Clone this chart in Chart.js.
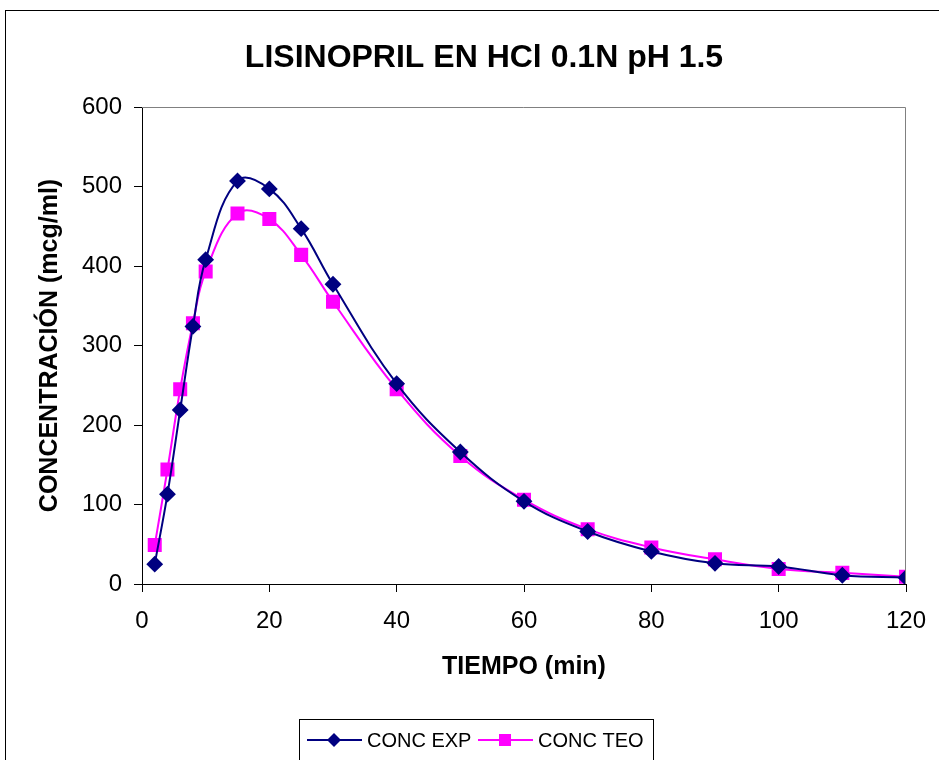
<!DOCTYPE html>
<html>
<head>
<meta charset="utf-8">
<script src="https://cdn.jsdelivr.net/npm/chart.js@4/dist/chart.umd.min.js"></script>
<style>
  html, body { margin: 0; padding: 0; background: #fff; }
  #wrap { width: 939px; height: 760px; }
</style>
</head>
<body>
<div id="wrap"><canvas id="myChart" width="939" height="760"></canvas></div>
<script>
// tiempo (min)
let tiempo = [2, 4, 6, 8, 10, 15, 20, 25, 30, 40, 50, 60, 70, 80, 90, 100, 110, 120];
// concentraciones (mcg/ml)
let concExp = [25, 113, 219, 324, 408, 507, 497, 447, 377, 252, 166, 104, 66, 41, 26, 22, 11, 8];
let concTeo = [49, 144, 245, 328, 393, 466, 459, 414, 355, 245, 161, 106, 69, 46, 31, 19, 14, 9];

let xTicks = [0, 20, 40, 60, 80, 100, 120];
let yTicks = [0, 100, 200, 300, 400, 500, 600];

function toPoints(xs, ys) {
    let pts = [];
    for (let i = 0; i < xs.length; i++) {
        pts.push({ x: xs[i], y: ys[i] });
    }
    return pts;
}

const FONT = 'Liberation Sans, Arial, sans-serif';

// marco exterior, borde del area y leyenda
const extras = {
    id: 'extras',
    beforeDraw(chart) {
        const ctx = chart.ctx;
        ctx.save();
        ctx.fillStyle = '#fff';
        ctx.fillRect(0, 0, chart.width, chart.height);
        ctx.strokeStyle = '#000';
        ctx.lineWidth = 1;
        ctx.strokeRect(5.5, 10.5, 960, 800);
        ctx.restore();
    },
    afterDraw(chart) {
        const ctx = chart.ctx;
        const a = chart.chartArea;
        ctx.save();
        // borde gris arriba y derecha
        ctx.strokeStyle = '#808080';
        ctx.lineWidth = 1;
        ctx.beginPath();
        ctx.moveTo(a.left, a.top + 0.5);
        ctx.lineTo(a.right - 0.5, a.top + 0.5);
        ctx.lineTo(a.right - 0.5, a.bottom);
        ctx.stroke();

        // titulo
        ctx.fillStyle = '#000';
        ctx.font = 'bold 32px ' + FONT;
        ctx.textAlign = 'center';
        ctx.textBaseline = 'alphabetic';
        ctx.fillText('LISINOPRIL EN HCl 0.1N pH 1.5', 484, 67);

        // leyenda
        ctx.strokeStyle = '#000';
        ctx.strokeRect(299.5, 719.5, 354, 60);
        ctx.font = '20px ' + FONT;
        ctx.textAlign = 'left';
        ctx.textBaseline = 'middle';
        const ly = 740;
        chart.data.datasets.forEach((ds, i) => {
            const x0 = i === 0 ? 307 : 478;
            ctx.strokeStyle = ds.borderColor;
            ctx.lineWidth = 2;
            ctx.beginPath();
            ctx.moveTo(x0, ly);
            ctx.lineTo(x0 + 55, ly);
            ctx.stroke();
            ctx.fillStyle = ds.pointBackgroundColor;
            if (ds.pointStyle === 'rectRot') {
                ctx.beginPath();
                ctx.moveTo(x0 + 27, ly - 7);
                ctx.lineTo(x0 + 34, ly);
                ctx.lineTo(x0 + 27, ly + 7);
                ctx.lineTo(x0 + 20, ly);
                ctx.closePath();
                ctx.fill();
            } else {
                ctx.fillRect(x0 + 21, ly - 6, 12, 12);
            }
            ctx.fillStyle = '#000';
            ctx.fillText(ds.label, x0 + 60, ly + 1);
        });
        ctx.restore();
    }
};

const ctx = document.getElementById('myChart').getContext('2d');
const myChart = new Chart(ctx, {
    type: 'line',
    data: {
        datasets: [{
            label: 'CONC EXP',
            data: toPoints(tiempo, concExp),
            borderColor: '#000080',
            backgroundColor: '#000080',
            pointBackgroundColor: '#000080',
            pointBorderColor: '#000080',
            pointStyle: 'rectRot',
            pointRadius: 7,
            borderWidth: 2,
            tension: 0.4
        }, {
            label: 'CONC TEO',
            data: toPoints(tiempo, concTeo),
            borderColor: '#FF00FF',
            backgroundColor: '#FF00FF',
            pointBackgroundColor: '#FF00FF',
            pointBorderColor: '#FF00FF',
            pointStyle: 'rect',
            pointRadius: 8.5,
            borderWidth: 2,
            tension: 0.4
        }]
    },
    plugins: [extras],
    options: {
        responsive: false,
        animation: false,
        layout: { padding: { top: 107, right: 33, left: 0, bottom: 0 } },
        plugins: {
            legend: { display: false },
            title: { display: false },
            tooltip: { enabled: false }
        },
        scales: {
            x: {
                type: 'linear',
                min: 0,
                max: 120,
                afterFit: (s) => { s.height = 176; s.paddingLeft = 0; s.paddingRight = 0; },
                afterBuildTicks: (s) => { s.ticks = xTicks.map(v => ({ value: v })); },
                grid: { drawOnChartArea: false, tickLength: 8, color: '#000', tickColor: '#000' },
                border: { color: '#000', width: 1 },
                ticks: { color: '#000', font: { family: FONT, size: 24 }, padding: 15, maxRotation: 0 },
                title: {
                    display: true,
                    text: 'TIEMPO (min)',
                    color: '#000',
                    font: { family: FONT, size: 25, weight: 'bold' },
                    padding: { top: 0, bottom: 78 }
                }
            },
            y: {
                min: 0,
                max: 600,
                afterFit: (s) => { s.width = 142; s.paddingTop = 0; s.paddingBottom = 0; },
                afterBuildTicks: (s) => { s.ticks = yTicks.map(v => ({ value: v })); },
                grid: { drawOnChartArea: false, tickLength: 8, color: '#000', tickColor: '#000' },
                border: { color: '#000', width: 1 },
                ticks: { color: '#000', font: { family: FONT, size: 24 }, padding: 12 },
                title: {
                    display: true,
                    text: 'CONCENTRACIÓN (mcg/ml)',
                    color: '#000',
                    font: { family: FONT, size: 25, weight: 'bold' },
                    padding: { top: 35, bottom: 0 }
                }
            }
        }
    }
});
</script>
</body>
</html>
